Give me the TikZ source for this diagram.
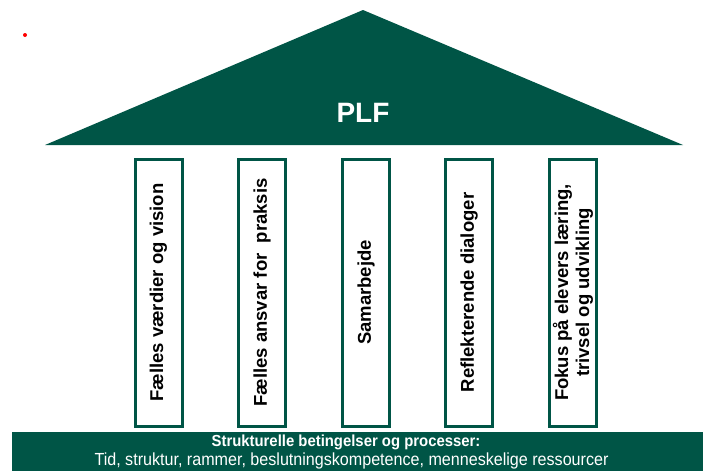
\documentclass[tikz,border=0pt]{standalone}
\usepackage{fontspec}
\setmainfont{Liberation Sans}
\definecolor{plfgreen}{RGB}{0,85,70}
\begin{document}
\begin{tikzpicture}[x=1pt,y=-1pt,
  pillar/.style={draw=plfgreen, line width=3pt, fill=white, minimum width=47pt, minimum height=267pt, inner sep=0pt},
  ptext/.style={rotate=90, font=\fontsize{18.5}{21}\selectfont\bfseries, align=center, text=black},
  btext/.style={text=white, inner sep=0pt}]
\useasboundingbox (0,0) rectangle (703,471);
\fill[red] (25,35) circle (2);
% roof
\fill[plfgreen] (45,145) -- (363,10) -- (683,145) -- cycle;
\node[text=white, font=\fontsize{28}{30}\selectfont\bfseries] (plf) at (363,113) {PLF};
% pillars
\node[pillar] (p1) at (158.5,292.5) {};
\node[pillar] (p2) at (262,292.5) {};
\node[pillar] (p3) at (366,292.5) {};
\node[pillar] (p4) at (469,292.5) {};
\node[pillar] (p5) at (573,292.5) {};
\node[ptext] at (p1) {Fælles værdier og vision};
\node[ptext] at (p2) {Fælles ansvar for\ \ praksis};
\node[ptext] at (p3) {Samarbejde};
\node[ptext] at (p4) {Reflekterende dialoger};
\node[ptext] at (p5) {Fokus på elevers læring,\\trivsel og udvikling};
% base
\fill[plfgreen] (12,432) rectangle (703,471);
\node[btext, font=\fontsize{16}{18}\selectfont\bfseries, anchor=base] (b1) at (346,446.5) {\scalebox{0.93}[1]{Strukturelle betingelser og processer:}};
\node[btext, font=\fontsize{17.5}{20}\selectfont, anchor=base] (b2) at (351.5,465) {\scalebox{0.92}[1]{Tid, struktur, rammer, beslutningskompetence, menneskelige ressourcer}};
\end{tikzpicture}
\end{document}
